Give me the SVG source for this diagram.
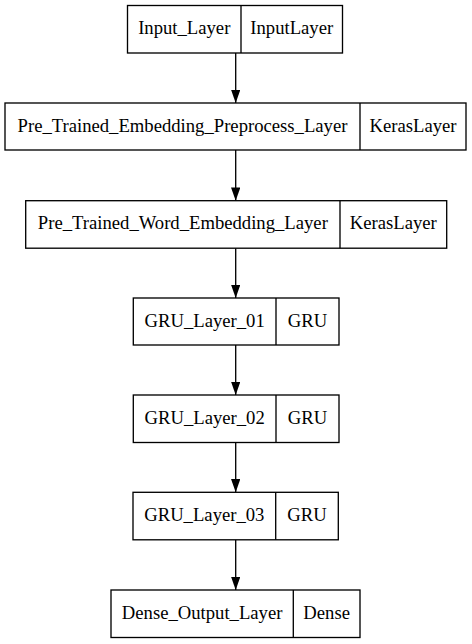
<svg xmlns="http://www.w3.org/2000/svg" width="472" height="644" viewBox="0 0 472 644">
<style>
.box{fill:#fff;stroke:#000;stroke-width:1.33}
.div{stroke:#000;stroke-width:1.33}
.lbl{font-family:"Liberation Serif","Times New Roman",serif;font-size:18.67px;text-anchor:middle;fill:#000}
.edge{stroke:#000;stroke-width:1.33;fill:none;marker-end:url(#ah)}
</style>
<defs>
<marker id="ah" markerUnits="userSpaceOnUse" markerWidth="14" markerHeight="10" refX="13.3" refY="4.67" orient="auto">
<path d="M0,0 L13.3,4.67 L0,9.33 Z" fill="#000"/>
</marker>
</defs>
<rect width="472" height="644" fill="#fff"/>
<g id="edges">
<line class="edge" x1="235.7" y1="53" x2="235.7" y2="103"/>
<line class="edge" x1="235.7" y1="150" x2="235.7" y2="200.7"/>
<line class="edge" x1="235.7" y1="248.2" x2="235.7" y2="298"/>
<line class="edge" x1="235.7" y1="345" x2="235.7" y2="395"/>
<line class="edge" x1="235.7" y1="442.5" x2="235.7" y2="492.3"/>
<line class="edge" x1="235.7" y1="539.8" x2="235.7" y2="590"/>
</g>
<g id="input_layer">
<rect class="box" x="127.5" y="5.5" width="215" height="47.5"/>
<line class="div" x1="241" y1="5.5" x2="241" y2="53"/>
<text class="lbl" x="184.25" y="34">Input_Layer</text>
<text class="lbl" x="291.75" y="34">InputLayer</text>
</g>
<g id="preprocess_layer">
<rect class="box" x="5" y="103" width="461" height="47"/>
<line class="div" x1="360" y1="103" x2="360" y2="150"/>
<text class="lbl" x="182.5" y="131.5">Pre_Trained_Embedding_Preprocess_Layer</text>
<text class="lbl" x="413" y="131.5">KerasLayer</text>
</g>
<g id="embedding_layer">
<rect class="box" x="25.7" y="200.7" width="421" height="47.5"/>
<line class="div" x1="340" y1="200.7" x2="340" y2="248.2"/>
<text class="lbl" x="182.85" y="229">Pre_Trained_Word_Embedding_Layer</text>
<text class="lbl" x="393.35" y="229">KerasLayer</text>
</g>
<g id="gru_layer_01">
<rect class="box" x="133.3" y="298" width="205.7" height="47"/>
<line class="div" x1="276" y1="298" x2="276" y2="345"/>
<text class="lbl" x="204.65" y="326.5">GRU_Layer_01</text>
<text class="lbl" x="307.5" y="326.5">GRU</text>
</g>
<g id="gru_layer_02">
<rect class="box" x="133.3" y="395" width="205.7" height="47.5"/>
<line class="div" x1="276" y1="395" x2="276" y2="442.5"/>
<text class="lbl" x="204.65" y="423.5">GRU_Layer_02</text>
<text class="lbl" x="307.5" y="423.5">GRU</text>
</g>
<g id="gru_layer_03">
<rect class="box" x="133" y="492.3" width="205.3" height="47.5"/>
<line class="div" x1="275.7" y1="492.3" x2="275.7" y2="539.8"/>
<text class="lbl" x="204.35" y="521">GRU_Layer_03</text>
<text class="lbl" x="307" y="521">GRU</text>
</g>
<g id="dense_output_layer">
<rect class="box" x="111" y="590" width="249" height="47.5"/>
<line class="div" x1="293.3" y1="590" x2="293.3" y2="637.5"/>
<text class="lbl" x="202.15" y="618.5">Dense_Output_Layer</text>
<text class="lbl" x="326.65" y="618.5">Dense</text>
</g>
</svg>
